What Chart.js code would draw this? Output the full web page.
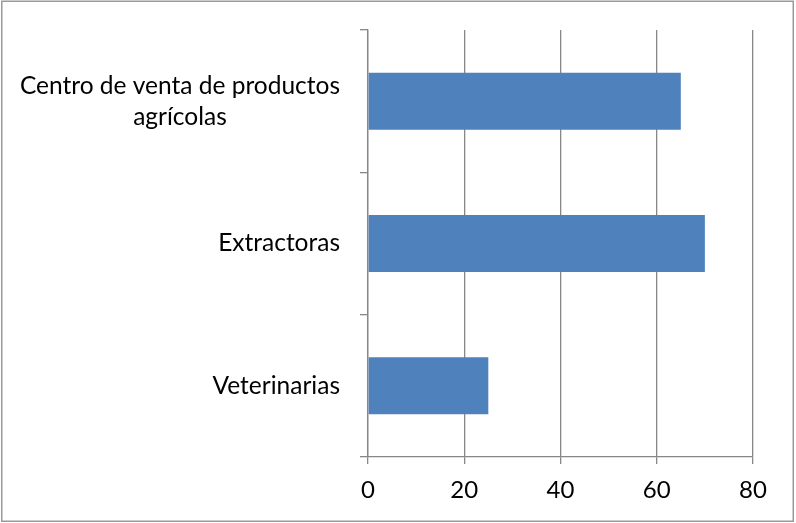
<!DOCTYPE html>
<html>
<head>
<meta charset="utf-8">
<script src="https://cdn.jsdelivr.net/npm/chart.js@4"></script>
<style>
  html, body { margin:0; padding:0; background:#fff; }
  #wrap { width:796px; height:523px; }
</style>
</head>
<body>
<div id="wrap"><canvas id="chart" width="796" height="523"></canvas></div>
<script>
// data
const CATEGORIES = [['Centro de venta de productos', 'agrícolas'], ['Extractoras'], ['Veterinarias']];
const VALUES     = [65, 70, 25];
const X_MIN = 0, X_MAX = 80, X_STEP = 20;

const GRID  = '#878787';
const FONT  = 'Lato, "Open Sans", sans-serif';
const FSIZE = 24.5;   // category labels
const TSIZE = 24;     // value ticks

// outer frame of the picture
const framePlugin = {
  id: 'frame',
  beforeDraw(chart) {
    const c = chart.ctx;
    c.save();
    c.strokeStyle = '#9a9a9a';
    c.lineWidth = 1.5;
    c.strokeRect(1.75, 1.25, 791.5, 520);
    c.restore();
  }
};

// category labels: block right-aligned to the axis, lines centred inside the block
const catLabels = {
  id: 'catLabels',
  afterDraw(chart) {
    const sc = chart.scales.y, c = chart.ctx;
    const right = sc.right - 28, lh = 31;
    c.save();
    c.font = `${FSIZE}px ${FONT}`;
    c.fillStyle = '#000';
    c.textAlign = 'center';
    c.textBaseline = 'middle';
    CATEGORIES.forEach((lines, i) => {
      const y  = sc.getPixelForTick(i);
      const w  = Math.max(...lines.map(l => c.measureText(l).width));
      const cx = right - w / 2;
      const y0 = y - (lines.length - 1) * lh / 2;
      lines.forEach((l, k) => c.fillText(l, cx, y0 + k * lh));
    });
    c.restore();
  }
};

new Chart(document.getElementById('chart'), {
  type: 'bar',
  data: {
    labels: CATEGORIES,
    datasets: [{
      data: VALUES,
      backgroundColor: '#4f81bd',
      borderWidth: 0,
      categoryPercentage: 1,
      barPercentage: 0.4,
    }]
  },
  options: {
    indexAxis: 'y',
    responsive: false,
    animation: false,
    layout: { padding: { top: 30, right: 43, left: 0, bottom: 0 } },
    plugins: { legend: { display: false }, tooltip: { enabled: false } },
    scales: {
      x: {
        min: X_MIN, max: X_MAX,
        ticks: { stepSize: X_STEP, color: '#000', font: { family: FONT, size: TSIZE }, padding: 12 },
        grid: { color: GRID, lineWidth: 1.3, tickLength: 7 },
        border: { color: GRID, width: 1.3 },
        afterFit: s => { s.height = 66; }
      },
      y: {
        offset: true,
        ticks: { display: false },
        grid: { offset: true, drawOnChartArea: false, color: GRID, lineWidth: 1.3, tickLength: 8 },
        border: { color: GRID, width: 1.3 },
        afterFit: s => { s.width = 368; }
      }
    }
  },
  plugins: [framePlugin, catLabels]
});
</script>
</body>
</html>
